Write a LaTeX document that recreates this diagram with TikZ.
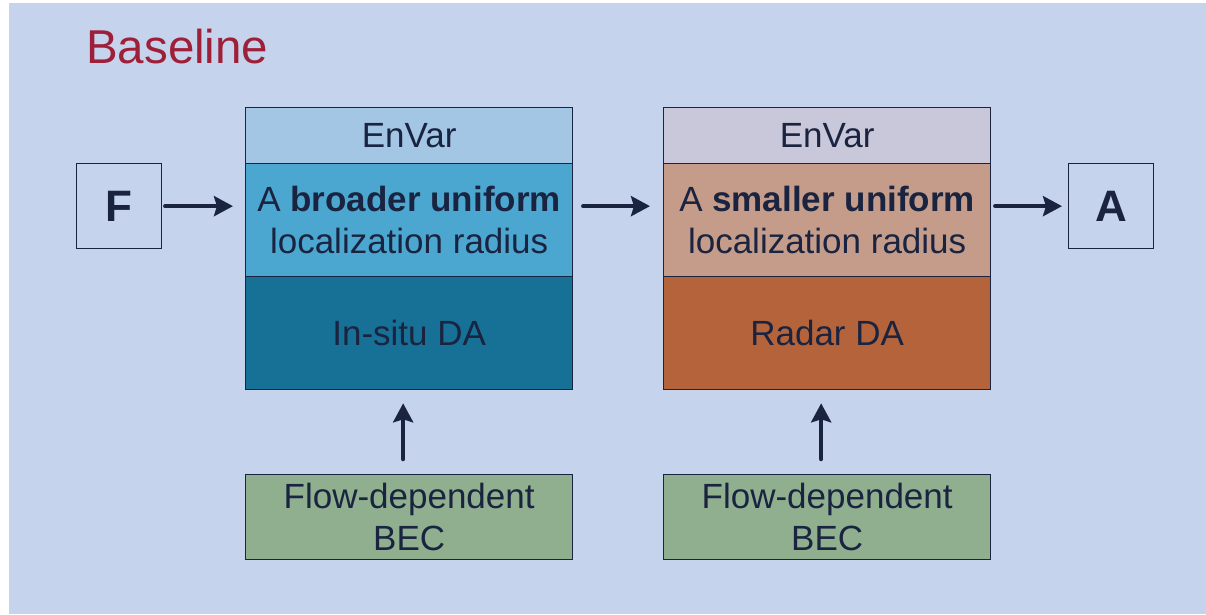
\documentclass[tikz,border=0pt]{standalone}
\usepackage{fontspec}
\setmainfont{Liberation Sans}
\usetikzlibrary{arrows.meta}
\definecolor{bgc}{RGB}{197,211,236}
\definecolor{ink}{RGB}{26,36,64}
\definecolor{titlec}{RGB}{158,32,56}
\definecolor{lenvc}{RGB}{162,198,227}
\definecolor{lmidc}{RGB}{76,167,208}
\definecolor{lbotc}{RGB}{23,113,150}
\definecolor{renvc}{RGB}{200,200,218}
\definecolor{rmidc}{RGB}{196,156,137}
\definecolor{rbotc}{RGB}{181,99,58}
\definecolor{greenc}{RGB}{143,175,143}
\tikzset{
  seg/.style={draw=ink, line width=1.3pt, inner sep=0pt, anchor=north west,
    minimum width=327pt, text=ink, align=center,
    font=\fontsize{35}{42.5}\selectfont},
  io/.style={draw=ink, line width=1.3pt, inner sep=0pt, anchor=north west,
    minimum width=85pt, minimum height=85pt, text=ink,
    font=\fontsize{44}{50}\selectfont\bfseries},
  arr/.style={draw=ink, line width=4.5pt, line cap=round,
    -{Stealth[length=19pt,width=20pt,inset=3pt]}}
}
\begin{document}
\begin{tikzpicture}[x=1pt,y=-1pt]
\useasboundingbox (0,0) rectangle (1206,614);
\fill[white] (0,0) rectangle (1206,614);
\fill[bgc] (9,3) rectangle (1206,614);
\node[anchor=base west, inner sep=0pt, text=titlec, font=\fontsize{47.5}{55}\selectfont] (title) at (86,63) {Baseline};
% left stack
\node[seg, fill=lenvc, minimum height=56pt] (lenv) at (245,107) {EnVar};
\node[seg, fill=lmidc, minimum height=113pt] (lmid) at (245,163) {A \textbf{broader uniform}\\localization radius};
\node[seg, fill=lbotc, minimum height=113pt] (lbot) at (245,276) {In-situ DA};
\node[seg, fill=greenc, minimum height=85pt] (lbec) at (245,474) {Flow-dependent\\BEC};
% right stack
\node[seg, fill=renvc, minimum height=56pt] (renv) at (663,107) {EnVar};
\node[seg, fill=rmidc, minimum height=113pt] (rmid) at (663,163) {A \textbf{smaller uniform}\\localization radius};
\node[seg, fill=rbotc, minimum height=113pt] (rbot) at (663,276) {Radar DA};
\node[seg, fill=greenc, minimum height=85pt] (rbec) at (663,474) {Flow-dependent\\BEC};
% input/output
\node[io] (F) at (76,163) {F};
\node[io] (A) at (1068,163) {A};
% arrows
\draw[arr, shorten <=3pt, shorten >=12pt] (F.east) -- (F.east -| lmid.west);
\draw[arr, shorten <=10pt, shorten >=13pt] (F.east -| lmid.east) -- (F.east -| rmid.west);
\draw[arr, shorten <=4pt, shorten >=6pt] (A.west -| rmid.east) -- (A.west);
\draw[arr, shorten <=15pt, shorten >=13pt] ([xshift=-6pt]lbec.north) -- ([xshift=-6pt]lbot.south);
\draw[arr, shorten <=15pt, shorten >=13pt] ([xshift=-6pt]rbec.north) -- ([xshift=-6pt]rbot.south);
\end{tikzpicture}
\end{document}
